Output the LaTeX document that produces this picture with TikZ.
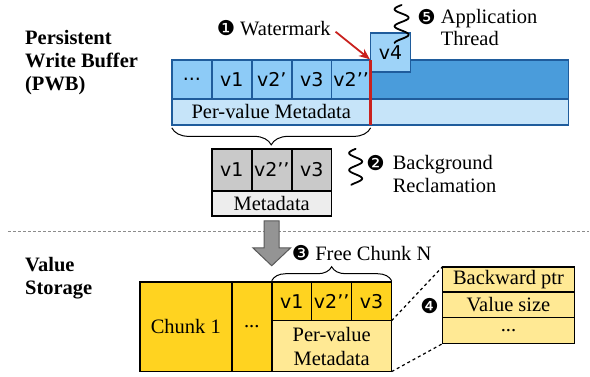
\documentclass[tikz,border=0pt]{standalone}
\usepackage{fontspec}
\setmainfont{Liberation Serif}
\newfontfamily\cellfont{DejaVu Sans}
\usepackage{tikz}
\usetikzlibrary{positioning,arrows.meta,calc,decorations.pathreplacing}
\definecolor{pwbBorde}{HTML}{1F5C9C}
\definecolor{pwbCelda}{HTML}{8DCBF7}
\definecolor{pwbResto}{HTML}{4A9CDB}
\definecolor{pwbMeta}{HTML}{C6E4F9}
\definecolor{chunkOro}{HTML}{FFD320}
\definecolor{chunkClaro}{HTML}{FFE994}
\definecolor{grisCelda}{HTML}{C9C9C9}
\definecolor{grisMeta}{HTML}{EDEDED}
\definecolor{rojoMarca}{HTML}{C9211E}
\newcommand{\stepnum}[1]{{\cellfont #1}}

\begin{document}
\begin{tikzpicture}[
  x=1pt, y=-1pt,
  font=\fontsize{20.5}{23}\selectfont,
  >=Stealth,
  box/.style={
    rectangle, draw, outer sep=0pt, inner sep=0pt, line width=1.6pt
  },
  pwbcell/.style={
    box, draw=pwbBorde, fill=pwbCelda, minimum width=40, minimum height=39,
    font=\cellfont\fontsize{19}{21}\selectfont
  },
  pwbrest/.style={box, draw=pwbBorde, fill=pwbResto, minimum height=39},
  pwbmeta/.style={box, draw=pwbBorde, fill=pwbMeta, minimum height=26},
  graycell/.style={
    box, fill=grisCelda, minimum width=40, minimum height=42,
    font=\cellfont\fontsize{19}{21}\selectfont
  },
  graymeta/.style={box, fill=grisMeta, minimum height=25},
  chunk/.style={box, fill=chunkOro, minimum height=90},
  chunkcell/.style={
    box, fill=chunkOro, minimum width=40, minimum height=39,
    font=\cellfont\fontsize{19}{21}\selectfont
  },
  chunkmeta/.style={box, fill=chunkClaro, align=center, font=\fontsize{20.5}{24}\selectfont},
  detail/.style={box, fill=chunkClaro, minimum width=132},
  lbl/.style={inner sep=0pt, align=left},
  sectlbl/.style={lbl, anchor=west, font=\bfseries\fontsize{20.5}{23}\selectfont},
  thread/.style={line width=1.8pt, line cap=round},
  bracedown/.style={line width=1pt, decorate,
    decoration={brace, mirror, amplitude=17pt, raise=3pt}},
  braceup/.style={line width=1pt, decorate,
    decoration={brace, amplitude=14pt, raise=1pt}},
  zoomline/.style={dashed, line width=1.2pt},
  sepline/.style={draw=black!45, dash pattern=on 3pt off 2pt, line width=1.2pt}
]

  % Persistent Write Buffer
  \node[sectlbl] (pwblbl) at (25,63) {Persistent\\Write Buffer\\(PWB)};

  \node[pwbcell, anchor=north west] (p0) at (172,60) {...};
  \node[pwbcell, right=0pt of p0] (p1) {v1};
  \node[pwbcell, right=0pt of p1] (p2) {v2’};
  \node[pwbcell, right=0pt of p2] (p3) {v3};
  \node[pwbcell, right=0pt of p3, minimum width=39] (p4) {v2’’};
  \node[pwbrest, right=0pt of p4, minimum width=198] (prest) {};
  \node[pwbmeta, anchor=north west, minimum width=199] (pmeta) at (p0.south west) {Per-value Metadata};
  \node[pwbmeta, right=0pt of pmeta, minimum width=198] (pmeta2) {};
  \node[pwbcell, anchor=north west, fill=pwbCelda!85!white] (v4) at (371,33) {v4};

  % Watermark
  \draw[draw=rojoMarca, line width=2.6pt] (p4.north east) -- (pmeta.south east);
  \node[lbl] (wm) at (274,28) {\stepnum{❶} Watermark};
  \draw[-{Stealth[length=11pt,width=9pt]}, draw=rojoMarca, line width=1.8pt, shorten <=6pt, shorten >=1pt] (wm.east) -- (p4.north east);

  % Application thread
  \draw[thread] plot[domain=0:38, samples=70, smooth] ({402-7*sin(\x*360/17)}, {5+\x});
  \node[lbl] (n5) at (427,17) {\stepnum{❺}};
  \node[lbl, anchor=west, font=\fontsize{20.5}{21.5}\selectfont] (applbl) at (441,27.5) {Application\\Thread};

  \draw[bracedown] (pmeta.south west) -- (pmeta.south east);

  % Background reclamation
  \node[graycell, anchor=north west] (g1) at (212,149) {v1};
  \node[graycell, right=0pt of g1] (g2) {v2’’};
  \node[graycell, right=0pt of g2] (g3) {v3};
  \node[graymeta, anchor=north west, minimum width=120] (gmeta) at (g1.south west) {Metadata};

  \draw[thread] plot[domain=0:36, samples=70, smooth] ({356-6.5*sin(\x*360/17)}, {149+\x});
  \node[lbl] (n2) at (376,163) {\stepnum{❷}};
  \node[lbl, anchor=west] (bglbl) at (393,174.5) {Background\\Reclamation};

  % separador
  \draw[sepline] (8,232) -- (590,232);

  % flecha gruesa
  \coordinate (atop) at ($(gmeta.south)+(0,5)$);
  \draw[fill=black!42, draw=black!65, line width=1pt]
    ($(atop)+(-7.5,0)$) -- ++(15,0) -- ++(0,27) -- ++(11.5,0)
    -- ($(atop)+(0,45)$) -- ($(atop)+(-19,27)$) -- ++(11.5,0) -- cycle;

  % Value Storage
  \node[sectlbl] (vslbl) at (25,278.5) {Value\\Storage};

  \node[chunk, anchor=north west, minimum width=92] (c1) at (140,282) {Chunk 1};
  \node[chunk, right=0pt of c1, minimum width=40] (cdots) {...};
  \node[chunkcell, anchor=north west] (f1) at (cdots.north east) {v1};
  \node[chunkcell, right=0pt of f1] (f2) {v2’’};
  \node[chunkcell, right=0pt of f2] (f3) {v3};
  \node[chunkmeta, anchor=north west, minimum width=120, minimum height=51] (fmeta) at (f1.south west) {Per-value\\Metadata};

  \draw[braceup] (f1.north west) -- (f3.north east);
  \node[lbl] (freelbl) at (362,253) {\stepnum{❸} Free Chunk N};

  % detalle de metadatos
  \node[detail, anchor=north west, minimum height=25] (d1) at (443,267) {Backward ptr};
  \node[detail, below=0pt of d1, minimum height=26] (d2) {Value size};
  \node[detail, below=0pt of d2, minimum height=26] (d3) {...};
  \node[lbl] (n4) at (430,306) {\stepnum{❹}};

  \draw[zoomline] (fmeta.north east) -- (d1.north west);
  \draw[zoomline] (fmeta.south east) -- (d3.south west);

  \useasboundingbox (0,0) rectangle (590,377);
\end{tikzpicture}
\end{document}
